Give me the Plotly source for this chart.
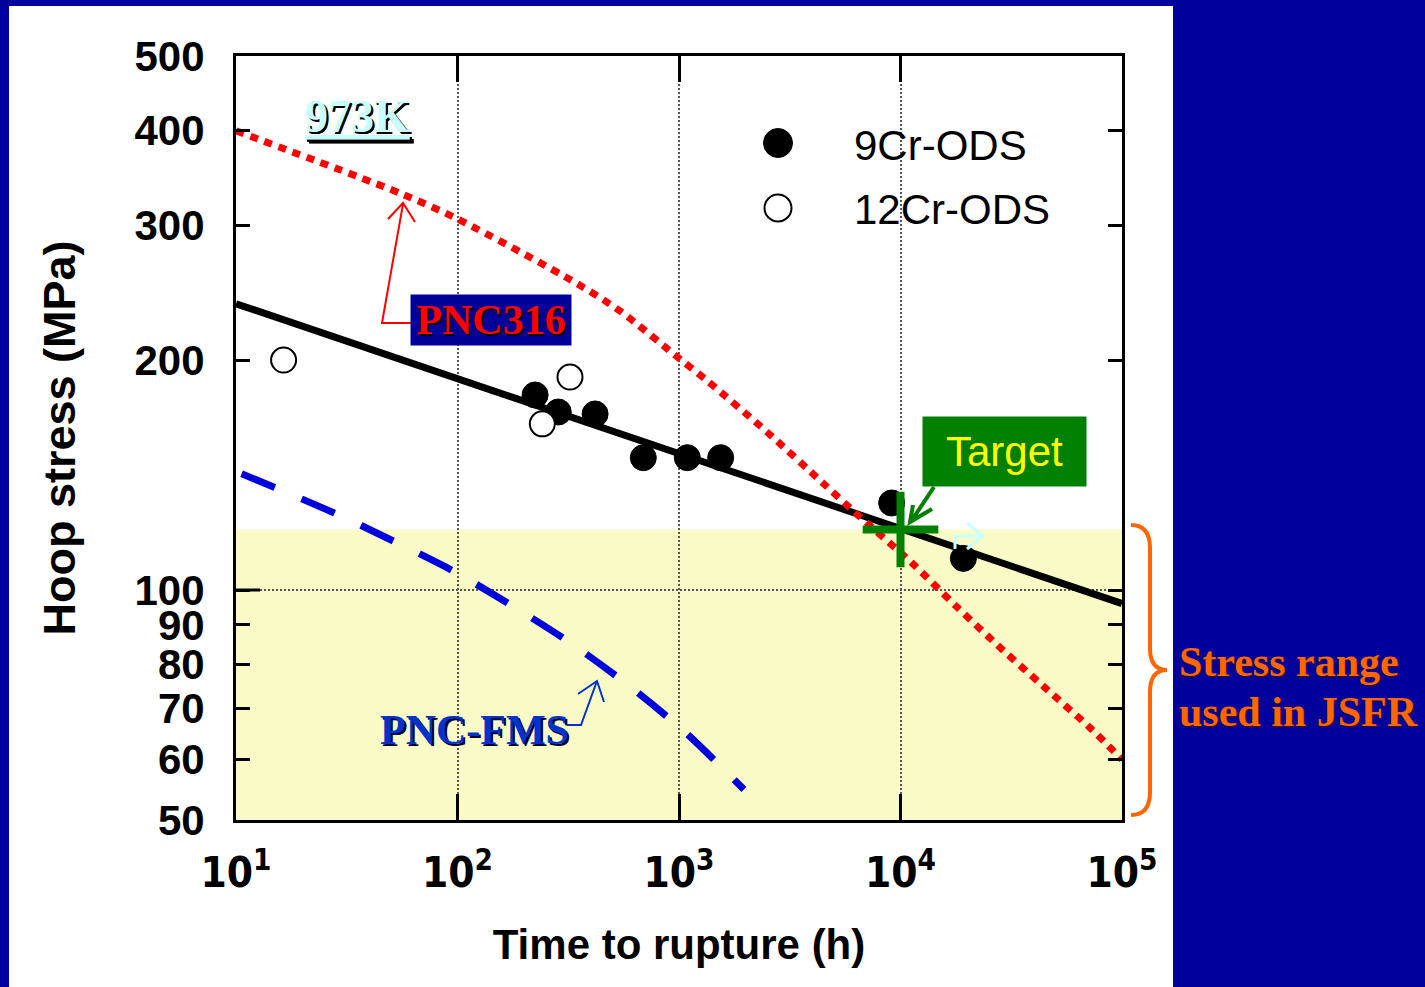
import plotly.graph_objects as go

# ---------------- data ----------------
# 9Cr-ODS creep-rupture fit line
fit_time = [10, 100000]
fit_stress = [237, 96]

# PNC316 reference curve
pnc316_time = [10, 56, 100, 345, 551, 1000, 1337, 2495, 4467, 6107,
               11220, 17990, 28920, 44460, 71780, 100000]
pnc316_stress = [399, 330, 306, 252, 231, 201, 188, 161, 138, 127,
                 108.6, 95, 83.5, 74.7, 66, 60]

# PNC-FMS reference curve
fms_time = [10.6, 28, 51, 95, 174, 317, 589, 1076, 1964]
fms_stress = [142, 126, 116, 106, 95.6, 85.6, 75.1, 65, 54.8]

# measured rupture points
cr9_time = [224, 285, 418, 690, 1090, 1542, 9120, 19230]
cr9_stress = [180, 171, 170, 149, 149, 149, 130, 110]

cr12_time = [16.4, 322, 241.5]
cr12_stress = [200, 190, 165]

# design target
target_time = [10000]
target_stress = [120]

# JSFR stress band (MPa)
jsfr_band = [50, 120]

x_tickvals = [10, 100, 1000, 10000, 100000]
x_ticktext = ["10<sup>1</sup>", "10<sup>2</sup>", "10<sup>3</sup>",
              "10<sup>4</sup>", "10<sup>5</sup>"]
y_tickvals = [50, 60, 70, 80, 90, 100, 200, 300, 400, 500]
y_ticktext = [str(v) for v in y_tickvals]

# ---------------- layout geometry (pixels) ----------------
W, H = 1425, 987
L, R, T, B = 236, 1122, 56, 820

PAGE_BLUE = "#00009C"
BOX_BLUE = "#000099"
GREEN = "#008000"
ORANGE = "#FF6600"


def pp(x, y):
    """pixel position -> paper coordinates"""
    return (x - L) / (R - L), (B - y) / (B - T)


def path(cmds):
    """build an SVG path in paper units from (command, [(x, y), ...]) pairs"""
    out = []
    for c, pts in cmds:
        coords = []
        for (x, y) in pts:
            px_, py_ = pp(x, y)
            coords.append(f"{px_:.5f},{py_:.5f}")
        out.append(c + " ".join(coords))
    return " ".join(out)


def circle(x, y, r, **kw):
    x0, y0 = pp(x - r, y + r)
    x1, y1 = pp(x + r, y - r)
    d = dict(type="circle", xref="paper", yref="paper",
             x0=x0, x1=x1, y0=y0, y1=y1, layer="above")
    d.update(kw)
    return d


fig = go.Figure()

fig.add_trace(go.Scatter(x=fit_time, y=fit_stress, mode="lines",
                         line=dict(color="black", width=7),
                         showlegend=False, hoverinfo="skip"))
fig.add_trace(go.Scatter(x=pnc316_time, y=pnc316_stress, mode="lines",
                         line=dict(color="#FF0000", width=7, dash="8px,7px",
                                   shape="spline", smoothing=0.8),
                         showlegend=False, hoverinfo="skip"))
fig.add_trace(go.Scatter(x=fms_time, y=fms_stress, mode="lines",
                         line=dict(color="#0000DD", width=7, dash="36px,29px",
                                   shape="spline", smoothing=0.8),
                         showlegend=False, hoverinfo="skip"))
fig.add_trace(go.Scatter(x=cr9_time, y=cr9_stress, mode="markers",
                         marker=dict(symbol="circle", size=26, color="black",
                                     line=dict(color="black", width=1)),
                         showlegend=False))
fig.add_trace(go.Scatter(x=cr12_time, y=cr12_stress, mode="markers",
                         marker=dict(symbol="circle", size=25, color="white",
                                     line=dict(color="black", width=2)),
                         showlegend=False))
fig.add_trace(go.Scatter(x=target_time, y=target_stress, mode="markers",
                         marker=dict(symbol="cross-thin", size=54,
                                     line=dict(color=GREEN, width=8)),
                         showlegend=False))

shapes = []
# white slide panel
x0, y0 = pp(9, 6)
x1, y1 = pp(1173, 987)
shapes.append(dict(type="rect", xref="paper", yref="paper", x0=x0, x1=x1,
                   y0=y1, y1=y0, fillcolor="white", line=dict(width=0),
                   layer="below"))
# JSFR stress band
shapes.append(dict(type="rect", xref="x", yref="y", x0=10, x1=100000,
                   y0=jsfr_band[0], y1=jsfr_band[1], fillcolor="#FAFAC6",
                   line=dict(width=0), layer="below"))
# horizontal grid at 100 MPa
shapes.append(dict(type="line", xref="x", yref="y", x0=10, x1=100000,
                   y0=100, y1=100, line=dict(color="#555555", width=2,
                                             dash="2px,2px"), layer="below"))
# longer major tick at 100 MPa on the left axis
tx0, _ = pp(236, 0)
tx1, _ = pp(260, 0)
shapes.append(dict(type="line", xref="paper", yref="y", x0=tx0, x1=tx1,
                   y0=100, y1=100, line=dict(color="black", width=3),
                   layer="above"))

# orange brace
shapes.append(dict(type="path", xref="paper", yref="paper", layer="above",
                   line=dict(color=ORANGE, width=4),
                   path=path([("M", [(1131, 525)]),
                              ("Q", [(1150, 525), (1150, 548)]),
                              ("L", [(1150, 648)]),
                              ("Q", [(1150, 670), (1167, 670)]),
                              ("Q", [(1150, 670), (1150, 692)]),
                              ("L", [(1150, 792)]),
                              ("Q", [(1150, 815), (1131, 815)])])))
# red leader to PNC316 curve
shapes.append(dict(type="path", xref="paper", yref="paper", layer="above",
                   line=dict(color="#FF0000", width=2),
                   path=path([("M", [(411, 323)]), ("L", [(382, 323)]),
                              ("L", [(403, 204)]),
                              ("M", [(388, 219)]), ("L", [(403, 203)]),
                              ("L", [(415, 222)])])))
# blue leader to PNC-FMS curve
shapes.append(dict(type="path", xref="paper", yref="paper", layer="above",
                   line=dict(color="#0033CC", width=2),
                   path=path([("M", [(567, 725)]), ("L", [(581, 725)]),
                              ("L", [(597, 681)]),
                              ("M", [(578, 694)]), ("L", [(597, 681)]),
                              ("L", [(604, 702)])])))
# green arrow from Target box
shapes.append(dict(type="path", xref="paper", yref="paper", layer="above",
                   line=dict(color=GREEN, width=4),
                   path=path([("M", [(934, 487)]), ("L", [(912, 520)]),
                              ("M", [(913, 505)]), ("L", [(910, 522)]),
                              ("L", [(932, 509)])])))
# light-cyan bent arrow
shapes.append(dict(type="path", xref="paper", yref="paper", layer="above",
                   line=dict(color="#C8FFFF", width=3),
                   path=path([("M", [(955, 549)]), ("L", [(955, 536)]),
                              ("L", [(983, 536)]),
                              ("M", [(967, 523)]), ("L", [(983, 536)]),
                              ("L", [(967, 549)])])))
# legend symbols
shapes.append(circle(778, 143, 14.5, fillcolor="black",
                     line=dict(color="black", width=1)))
shapes.append(circle(778, 208, 13.5, fillcolor="white",
                     line=dict(color="black", width=2)))

ann = []


def label(x, y, text, **kw):
    ax_, ay_ = pp(x, y)
    d = dict(xref="paper", yref="paper", x=ax_, y=ay_, text=text,
             showarrow=False, xanchor="center", yanchor="middle")
    d.update(kw)
    ann.append(d)


serif_b = "Liberation Serif, Times New Roman, serif"
sans = "Liberation Sans, Arial, sans-serif"

label(357, 116, "973K",
      font=dict(family=serif_b, size=46, color="#C8FFFF", weight="bold",
                lineposition="under", shadow="2px 2px 0px #000000"))
label(491, 320, "PNC316", width=158, height=48, bgcolor=BOX_BLUE, borderpad=1,
      font=dict(family=serif_b, size=42, color="#FF0000", weight="bold",
                shadow="2px 2px 0px #000000"))
label(474, 730, "PNC-FMS",
      font=dict(family=serif_b, size=42, color="#0033CC", weight="bold",
                shadow="2px 2px 0px #000033"))
label(1004.5, 451.5, "Target", width=161, height=67, bgcolor=GREEN,
      borderpad=1, font=dict(family=sans, size=42, color="#FFFF00"))
label(1177, 662, "Stress range", xanchor="left",
      font=dict(family=serif_b, size=42, color=ORANGE, weight="bold",
                shadow="1px 1px 0px #3A1400"))
label(1177, 712, "used in JSFR", xanchor="left",
      font=dict(family=serif_b, size=42, color=ORANGE, weight="bold",
                shadow="1px 1px 0px #3A1400"))
label(852, 145, "9Cr-ODS", xanchor="left",
      font=dict(family=sans, size=42, color="black"))
label(852, 209, "12Cr-ODS", xanchor="left",
      font=dict(family=sans, size=42, color="black"))

fig.update_layout(
    width=W, height=H,
    margin=dict(l=L, r=W - R, t=T, b=H - B, autoexpand=False),
    paper_bgcolor=PAGE_BLUE,
    plot_bgcolor="white",
    shapes=shapes,
    annotations=ann,
    showlegend=False,
    font=dict(family=sans, color="black"),
)

fig.update_xaxes(
    type="log", range=[1, 5],
    tickvals=x_tickvals, ticktext=x_ticktext,
    ticks="inside", ticklen=26, tickwidth=3, tickcolor="black",
    showline=True, linewidth=3, linecolor="black", mirror="ticks",
    showgrid=True, gridcolor="#555555", gridwidth=2, griddash="2px,2px",
    zeroline=False,
    tickfont=dict(family="Liberation Sans Narrow, DejaVu Sans Condensed, Liberation Sans",
                  size=42, color="black", weight="bold"),
    ticklabelstandoff=14,
    title=dict(text="Time to rupture (h)", standoff=34,
               font=dict(family=sans, size=42, color="black", weight="bold")),
)
fig.update_yaxes(
    type="log", range=[1.69897, 2.69897],
    tickvals=y_tickvals, ticktext=y_ticktext,
    ticks="inside", ticklen=14, tickwidth=3, tickcolor="black",
    showline=True, linewidth=3, linecolor="black", mirror="ticks",
    showgrid=False, zeroline=False,
    tickfont=dict(family=sans, size=42, color="black", weight="bold"),
    ticklabelstandoff=20,
    title=dict(text="Hoop stress (MPa)", standoff=45,
               font=dict(family=sans, size=45, color="black", weight="bold")),
)

fig.write_html("out.html")
